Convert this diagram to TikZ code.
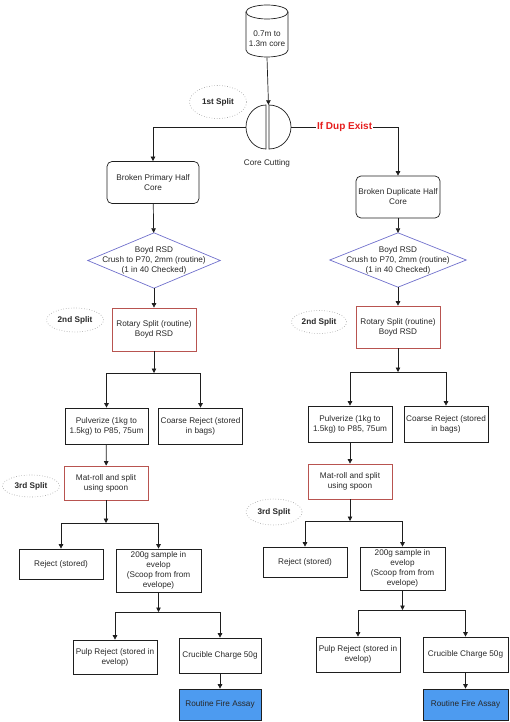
\documentclass[tikz,border=0pt]{standalone}
\usepackage{fontspec}
\setmainfont{Liberation Sans}
\usetikzlibrary{arrows.meta,shapes.geometric}

\begin{document}
\begin{tikzpicture}[x=1pt,y=1pt,yscale=-1,
    every node/.style={font=\fontsize{8.2}{10}\selectfont, text={rgb,255:red,40;green,40;blue,40}, align=center, inner sep=0pt},
    ln/.style={draw={rgb,255:red,30;green,30;blue,30}, line width=0.7pt},
    arr/.style={ln, -{Triangle[length=4.5pt,width=4.5pt]}},
    box/.style={ln, minimum width=84, minimum height=36},
    rndbox/.style={box, rounded corners=5pt, minimum height=42},
    redbox/.style={box, draw={rgb,255:red,184;green,84;blue,80}},
    bluebox/.style={box, fill={rgb,255:red,77;green,155;blue,240}, minimum height=31},
    splitlbl/.style={draw={rgb,255:red,150;green,150;blue,150}, dotted, line width=0.6pt, ellipse, minimum width=57, minimum height=24, font=\fontsize{8.2}{10}\selectfont\bfseries}
  ]
    \useasboundingbox (0,0) rectangle (509,722);
    %Shape: Can
    \draw [ln] (267,12) ellipse [x radius=21, y radius=7];
    \draw [ln] (246,12) -- (246,50) arc [start angle=180, end angle=0, x radius=21, y radius=7] -- (288,12);
    \node [minimum width=42, minimum height=38] (core) at (267,38.5) {0.7m to\\1.3m core};
    %Shape: Split circle
    \draw [ln] (266,105) arc [start angle=270, end angle=90, x radius=20, y radius=22] -- cycle;
    \draw [ln] (269,105) arc [start angle=270, end angle=450, x radius=22, y radius=22] -- cycle;
    \node [minimum width=45, minimum height=44] (cut) at (268.5,127) {};
    % Text Node
    \node (cutlbl) at (267,163) {Core Cutting};
    \node [splitlbl, minimum height=33] (splitA) at (218,102) {1st Split};

    %Primary half
    \node [rndbox, minimum width=92] (primL) at (153,182.5) {Broken Primary Half\\Core};
    \node [minimum width=132, minimum height=55] (rsdL) at (154,260.5) {Boyd RSD\\Crush to P70, 2mm (routine)\\(1 in 40 Checked)};
    \draw [ln, draw={rgb,255:red,112;green,112;blue,204}] (rsdL.north) -- (rsdL.east) -- (rsdL.south) -- (rsdL.west) -- cycle;
    \node [redbox, minimum height=43] (rotL) at (154,329.5) {Rotary Split (routine)\\Boyd RSD};
    \node [splitlbl] (splitBL) at (75,320) {2nd Split};
    \coordinate (jL1) at (154,373);
    \node [box, minimum width=83] (pulL) at (106.5,426) {Pulverize (1kg to\\1.5kg) to P85, 75um};
    \node [box] (coaL) at (200.5,426) {Coarse Reject (stored\\in bags)};
    \node [redbox, minimum height=34] (matL) at (106,483) {Mat-roll and split\\using spoon};
    \node [splitlbl, minimum height=22] (splitCL) at (31,486) {3rd Split};
    \coordinate (jL2) at (106,523);
    \node [box, minimum height=30] (rejL) at (61,564) {Reject (stored)};
    \node [box, minimum width=85, minimum height=43] (smpL) at (158.5,570.5) {200g sample in\\evelop\\(Scoop from from\\evelope)};
    \coordinate (jL3) at (158.5,612);
    \node [box, minimum height=34] (pulpL) at (115,657) {Pulp Reject (stored in\\evelop)};
    \node [box, minimum width=82, minimum height=35] (cruL) at (220,655.5) {Crucible Charge 50g};
    \node [bluebox, minimum width=82] (fireL) at (220,704.5) {Routine Fire Assay};

    %Duplicate half
    \node [rndbox] (dupR) at (398,197) {Broken Duplicate Half\\Core};
    \node [minimum width=136, minimum height=54] (rsdR) at (398,260) {Boyd RSD\\Crush to P70, 2mm (routine)\\(1 in 40 Checked)};
    \draw [ln, draw={rgb,255:red,112;green,112;blue,204}] (rsdR.north) -- (rsdR.east) -- (rsdR.south) -- (rsdR.west) -- cycle;
    \node [redbox, minimum height=42] (rotR) at (398,327) {Rotary Split (routine)\\Boyd RSD};
    \node [splitlbl, minimum width=55, minimum height=23] (splitBR) at (319,322) {2nd Split};
    \coordinate (jR1) at (398,372);
    \node [box] (pulR) at (350,424) {Pulverize (1kg to\\1.5kg) to P85, 75um};
    \node [box] (coaR) at (446,424) {Coarse Reject (stored\\in bags)};
    \node [redbox, minimum height=35] (matR) at (350,481.5) {Mat-roll and split\\using spoon};
    \node [splitlbl, minimum width=56, minimum height=26] (splitCR) at (274,512) {3rd Split};
    \coordinate (jR2) at (350,521);
    \node [box, minimum height=30] (rejR) at (305,562) {Reject (stored)};
    \node [box, minimum width=85, minimum height=43] (smpR) at (402.5,568.5) {200g sample in\\evelop\\(Scoop from from\\evelope)};
    \coordinate (jR3) at (402.5,610);
    \node [box, minimum height=35] (pulpR) at (358,654.5) {Pulp Reject (stored in\\evelop)};
    \node [box, minimum width=85, minimum height=35] (cruR) at (465.5,654.5) {Crucible Charge 50g};
    \node [bluebox, minimum width=85] (fireR) at (465.5,704.5) {Routine Fire Assay};

    %Straight Lines
    \draw [arr] (core.south) -- (cut.north);
    \draw [arr] (cut.west) -| (primL.north);
    \draw [arr] (cut.east) -| node [pos=0.25, fill=white, inner xsep=1pt, font=\fontsize{10}{12}\selectfont\bfseries, text={rgb,255:red,230;green,30;blue,30}] (duplbl) {If Dup Exist} (dupR.north);

    \draw [arr] (primL) -- (rsdL);
    \draw [arr] (rsdL) -- (rotL);
    \draw [arr] (rotL) -- (jL1);
    \draw [arr] (jL1) -| (pulL.north);
    \draw [arr] (jL1) -| (coaL.north);
    \draw [arr] (pulL) -- (matL);
    \draw [arr] (matL) -- (jL2);
    \draw [arr] (jL2) -| (rejL.north);
    \draw [arr] (jL2) -| (smpL.north);
    \draw [arr] (smpL) -- (jL3);
    \draw [arr] (jL3) -| (pulpL.north);
    \draw [arr] (jL3) -| (cruL.north);
    \draw [arr] (cruL) -- (fireL);

    \draw [arr] (dupR) -- (rsdR);
    \draw [arr] (rsdR) -- (rotR);
    \draw [arr] (rotR) -- (jR1);
    \draw [arr] (jR1) -| (pulR.north);
    \draw [arr] (jR1) -| (coaR.north);
    \draw [arr] (pulR) -- (matR);
    \draw [arr] (matR) -- (jR2);
    \draw [arr] (jR2) -| (rejR.north);
    \draw [arr] (jR2) -| (smpR.north);
    \draw [arr] (smpR) -- (jR3);
    \draw [arr] (jR3) -| (pulpR.north);
    \draw [arr] (jR3) -| (cruR.north);
    \draw [arr] (cruR) -- (fireR);
\end{tikzpicture}
\end{document}
